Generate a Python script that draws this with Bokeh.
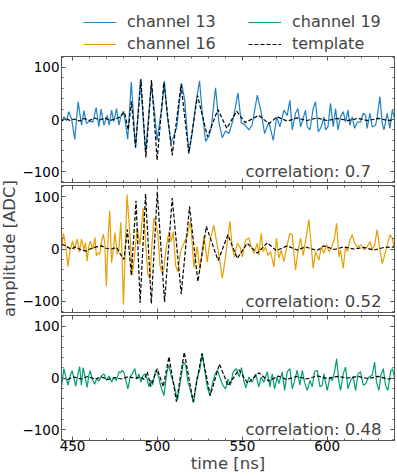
from bokeh.plotting import figure
from bokeh.models import Range1d, LinearAxis, SingleIntervalTicker, FixedTicker, Legend, LegendItem, Label
from bokeh.layouts import row, column
from bokeh.embed import file_html
from bokeh.resources import INLINE

FONT = "DejaVu Sans"
GRAY = "#555555"
X_LIM = (443.5, 639.6)
Y_LIM = (-121, 121)
X_TICK_STEP = 50
Y_TICK_STEP = 100
X_MINOR_STEP = 10
Y_MINOR_STEP = 20

CHANNELS = ["channel 13", "channel 16", "channel 19"]
CORRELATIONS = ["0.7", "0.52", "0.48"]
COLORS = ["#1f80c4", "#E69F00", "#009E73"]

# ---- channel 13 ----
T13 = [443.5, 445.0, 446.5, 447.8, 449.5, 451.3, 453.3, 455.3, 456.7, 458.2, 460.0, 462.0, 463.9, 465.5, 466.8,
       468.5, 470.4, 471.6, 473.0, 474.3, 475.9, 477.3, 478.5, 480.0, 481.0, 482.5, 484.6, 487.1, 490.0, 493.0,
       496.4, 498.0, 499.8, 501.5, 502.6, 504.1, 505.8, 508.0, 509.8, 511.3, 512.7, 514.2, 516.0, 518.5, 520.5,
       522.5, 524.8, 526.4, 528.4, 530.3, 531.7, 534.2, 536.2, 538.2, 540.1, 542.1, 544.6, 547.4, 549.4, 551.3,
       553.9, 555.8, 558.8, 561.0, 563.1, 565.6, 568.2, 570.2, 572.1, 574.5, 576.4, 578.0, 579.4, 581.3, 582.7,
       584.3, 585.8, 587.2, 588.2, 589.8, 591.7, 593.1, 594.7, 596.5, 598.0, 599.0, 600.4, 601.9, 603.5, 604.9,
       606.3, 607.8, 609.4, 610.8, 612.2, 613.3, 614.7, 616.1, 617.7, 619.6, 621.2, 622.6, 623.5, 625.1, 626.5,
       628.5, 629.4, 631.0, 632.4, 633.4, 635.3, 636.9, 638.3, 639.6]
V13 = [-4, 5, -2, 15, 0, -38, 34, -11, 17, -8, -3, -5, 23, -14, 20,
       -11, 8, -11, 18, -4, 21, -11, 6, 16, -3, -38, 72, -55, 77, -64,
       68, 24, -40, 0, 22, 74, 6, -45, -30, -16, 26, 70, 38, -64, -26,
       29, 74, 13, -42, -32, -16, 61, -6, -35, -22, -27, 0, 51, -6, -10,
       -20, -10, 47, 15, -27, -5, -40, 5, -14, 18, 8, 37, -20, 12, 21,
       -14, 2, 18, -14, -20, 21, 34, -24, -14, 5, -20, -14, 31, -14, 21,
       -20, 5, 15, -5, 18, -11, 5, -17, -5, -5, 12, 8, -17, 12, -14,
       -11, 5, 44, -8, -20, 12, -17, 18, 2]
TT13 = [443.5, 446, 448.5, 451, 454, 457, 460, 463, 466, 469, 472, 475, 477.5, 480.6, 482.8,
        484.7, 487.1, 490.3, 493.2, 496.5, 499.8, 503.8, 508.7, 513.9, 518.5, 523.6, 529.5, 535.6, 540.9, 546.6,
        551.7, 559.7, 565.6, 570.5, 576.4, 582.3, 588, 594, 600, 606, 612, 618, 624, 630, 636, 639.6]
VT13 = [-3, 2, -2, 1, -3, 2, -2, 3, -1, 3, -2, 1, 4, 14, -20,
        35, -53, 77, -73, 76, -78, 71, -69, 67, -65, 46, -33, 19, -17, 16,
        -6, 8, -8, 5, -3, 3, -2, 3, -2, 2, -2, 2, -2, 2, -2, 0]

# ---- channel 16 ----
T16 = [443.5, 444.6, 445.8, 447.3, 448.5, 450, 451, 452.8, 454, 455.3, 456.8, 457.6, 458.6, 459.6, 460.6,
       462, 463.2, 464, 465.1, 466, 467.1, 468.1, 469, 469.9, 471, 471.9, 473, 473.8, 475, 476.3,
       477.3, 478.4, 479.1, 480, 482.1, 483.8, 485.2, 486.5, 488.1, 489.7, 491.6, 493, 494.4, 495.6, 496.5,
       497.9, 499.5, 500.3, 501.5, 502.8, 503.8, 504.8, 506.8, 508.1, 509.3, 510.7, 512, 513.6, 515.6, 517.6,
       519.5, 521.5, 523.4, 525, 527.4, 529.3, 530.9, 533.2, 536.2, 538.2, 540.1, 542.7, 544, 545.4, 547,
       548.6, 549.9, 551.9, 553.9, 555.2, 556.8, 558.8, 559.7, 561.1, 562.3, 563.7, 565, 566.6, 568.6, 570.1,
       571.5, 572.9, 574.5, 576.4, 578, 579.4, 580.4, 581.3, 582.7, 584.3, 585.9, 587.2, 589.2, 590.6, 591.7,
       593.1, 595.1, 596.5, 598, 599.6, 601, 602.3, 604.3, 605.5, 606.9, 607.8, 609.4, 610.8, 611.8, 613.3,
       614.7, 616.1, 617.7, 620, 621.6, 623.5, 625.1, 626.5, 627.9, 629.4, 631, 632.4, 633.8, 635.3, 636.9,
       638.3, 639.5]
V16 = [-2, 30, 10, -33, -3, 15, -1, 19, -6, 19, -1, 12, -23, 6, 15,
       -1, 22, -13, -7, -10, 15, 28, 12, -71, 25, 73, -26, -7, 31, -10,
       -1, 51, -10, -106, 104, 27, -50, -12, 40, 8, 78, 14, -50, -56, -5,
       59, 43, 27, -31, -47, -37, -5, 33, 14, 33, -31, -44, -5, 11, 27,
       53, -35, 5, -40, 25, -25, 15, 45, -12, -56, -15, 53, 4, -15, 11,
       4, -15, 17, 21, 4, -8, 11, -12, 30, -5, 4, -12, -5, -34, 21,
       -18, -2, -24, 8, 30, 27, -8, -40, -5, 21, -12, 14, 56, 4, -37,
       -5, -21, 4, -8, 8, -5, 1, 21, 49, -15, -2, -37, 4, -5, 17,
       27, 11, 4, 8, -2, 4, 14, -2, 8, 37, -2, -28, -12, 8, 27,
       21, 1]
TT16 = [443.5, 446, 449, 452, 455, 458, 461, 464, 467, 470, 473, 476, 478.2, 480.3, 482.3,
        484.6, 487.4, 489.8, 493, 496.4, 499.9, 504.2, 508.7, 514, 518.9, 523.8, 528.8, 535.7, 541.5, 547,
        552.9, 558.8, 564.7, 570, 576.4, 582.3, 587.2, 594, 598, 604, 609.8, 615.7, 621.6, 627.5, 633.4, 639.6]
VT16 = [9, 6, 0, 4, -2, -4, 1, 4, 6, 1, 0, 3, -10, -20, 37,
        -50, 92, -103, 105, -104, 109, -101, 97, -86, 81, -62, 43, -22, 27, -18,
        11, -8, 12, -3, 6, -2, 4, -3, 6, -1, 4, 0, 3, -2, 3, 4]

# ---- channel 19 ----
T19 = [443.5, 444.9, 446.3, 447.4, 448.6, 449.8, 450.8, 451.9, 453.2, 454.2, 455.2, 456.2, 457.4, 458.6, 459.6,
       460.4, 461.6, 463, 464.3, 465.6, 467, 468.5, 470, 471.5, 473, 474.5, 475.8, 477.3, 478.3, 479.2,
       480.3, 481.4, 482.6, 484, 485.3, 486.7, 487.8, 489.1, 490.3, 491.5, 492.5, 493.8, 495, 496.1, 497.2,
       498.9, 500.3, 501.8, 503.8, 505.6, 506.7, 508, 509.6, 511.8, 513.6, 515.3, 516.6, 518, 519.5, 521.3,
       523.3, 525, 526.4, 528, 529.3, 530.9, 532.6, 534, 535.3, 536.7, 538.5, 540.1, 541.5, 543, 544.6,
       546.5, 548.2, 549.5, 550.8, 552, 553.9, 555.8, 557.8, 559.7, 561.1, 562.7, 564.7, 566.2, 567.6, 569,
       570.5, 571.5, 573.5, 574.9, 576.4, 578, 579.4, 580.8, 582.3, 583.9, 585.3, 586.6, 588.2, 589.8, 591.2,
       592.5, 594.1, 595.7, 597, 598, 600, 601.6, 602.9, 604.3, 605.5, 606.9, 607.8, 609.4, 610.8, 612.2,
       613.7, 615.3, 616.7, 618.1, 619.6, 621.2, 622.6, 624.5, 626.5, 627.9, 629, 630.4, 631.8, 633, 634.3,
       635.7, 637.3, 638.3, 639.6]
V19 = [-17, 18, -1, -14, 5, 14, 0, -16, 8, 22, -14, 20, 2, -18, 5,
       14, -2, -12, -1, -6, 4, 8, -5, 4, -8, 2, -5, 12, 10, 15,
       11, -4, -21, 3, 9, 18, -2, 8, -8, 5, 8, 0, -17, -4, -13,
       15, 7, -14, -34, 12, 25, 5, -11, -43, -5, 31, 25, -8, -24, -48,
       0, 17, 48, 12, -17, -34, -8, 8, 15, 2, -14, -21, -2, -14, 12,
       18, 2, 20, -4, -19, 2, -8, 8, -17, 2, -8, 12, -17, 8, -21,
       2, -11, 12, -24, 12, 18, -21, -5, 15, -14, 15, -8, -24, -5, -17,
       12, 15, -17, -14, 8, -24, 2, -5, 12, 37, -8, -24, 8, 21, -21,
       -5, 2, -24, 8, 12, -14, -11, 2, 5, 31, -8, -24, 8, 18, -14,
       -24, 12, 18, 2]
TT19 = [443.5, 447, 451, 455, 459, 463, 467, 471, 475, 479, 483, 487, 490, 492.2, 494,
        496.1, 499.9, 503.4, 506.8, 511.2, 515.8, 521, 526.2, 531.1, 536.5, 541.6, 548, 553.2, 559.7, 565.6,
        571, 576, 582, 588, 594, 600, 606, 612, 618, 624, 630, 636, 639.6]
VT19 = [0, -3, 2, -2, 3, -2, 2, -3, 1, -2, 3, -1, 2, -3, 12,
        -16, 18, -17, 41, -46, 50, -46, 47, -34, 27, -15, 16, -10, 10, -6,
        4, -3, 3, -2, 4, -1, 3, 0, 3, -1, 3, -2, 0]

SERIES = [(T13, V13, TT13, VT13), (T16, V16, TT16, VT16), (T19, V19, TT19, VT19)]

# tick positions (for the label-less mirror axes)
X_MAJOR = [x for x in range(400, 700, X_TICK_STEP) if X_LIM[0] <= x <= X_LIM[1]]
X_MINOR = [x for x in range(400, 700, X_MINOR_STEP) if X_LIM[0] <= x <= X_LIM[1] and x % X_TICK_STEP]
Y_MAJOR = [y for y in range(-200, 201, Y_TICK_STEP) if Y_LIM[0] <= y <= Y_LIM[1]]
Y_MINOR = [y for y in range(-200, 201, Y_MINOR_STEP) if Y_LIM[0] <= y <= Y_LIM[1] and y % Y_TICK_STEP]

LABEL_W = 18
FRAME_W = 333
FRAME_HS = [126, 127, 125]
LEFT = 43
RIGHT = 2
LEGEND_H = 54
TOPS = [2, 2, 2]
BOTTOMS = [1, 1, 35]
TICK_FS = "13.5px"
TEXT_FS = "16.5px"
FIG_W = LEFT + FRAME_W + RIGHT


def style_axis(ax, step, standoff):
    ax.ticker = SingleIntervalTicker(interval=step, num_minor_ticks=5)
    ax.major_tick_in = 4
    ax.major_tick_out = 0
    ax.minor_tick_in = 2
    ax.minor_tick_out = 0
    ax.axis_line_color = GRAY
    ax.major_tick_line_color = GRAY
    ax.minor_tick_line_color = GRAY
    ax.major_label_text_font = FONT
    ax.major_label_text_font_size = TICK_FS
    ax.major_label_text_color = "black"
    ax.major_label_standoff = standoff


def tick_only_axes(p, side, major, minor):
    # two label-less axes: long ticks at major positions, short ticks at minor positions
    for ticks, length in ((major, 4), (minor, 2)):
        ax = LinearAxis(ticker=FixedTicker(ticks=[], minor_ticks=ticks),
                        major_tick_in=0, major_tick_out=0,
                        minor_tick_in=length, minor_tick_out=0,
                        minor_tick_line_color=GRAY, axis_line_color=GRAY,
                        major_label_standoff=0)
        p.add_layout(ax, side)


panels = []
for i, (t, v, tt, vt) in enumerate(SERIES):
    last = (i == len(SERIES) - 1)
    p = figure(width=FIG_W, height=TOPS[i] + FRAME_HS[i] + BOTTOMS[i],
               x_range=Range1d(*X_LIM), y_range=Range1d(*Y_LIM),
               output_backend="svg", toolbar_location=None,
               x_axis_location=("below" if last else None),
               min_border_left=LEFT, min_border_right=RIGHT,
               min_border_top=TOPS[i], min_border_bottom=BOTTOMS[i],
               outline_line_color=GRAY, outline_line_width=1)
    p.grid.visible = False
    p.line(t, v, line_color=COLORS[i], line_width=1.2)
    p.line(tt, vt, line_color="black", line_width=1.2, line_dash="4 2")
    style_axis(p.yaxis[0], Y_TICK_STEP, standoff=2)
    p.yaxis[0].major_label_overrides = {-100: "\u2212100"}
    if last:
        xa = p.xaxis[0]
        style_axis(xa, X_TICK_STEP, standoff=0)
        xa.axis_label = "time [ns]"
        xa.axis_label_text_font = FONT
        xa.axis_label_text_font_size = TEXT_FS
        xa.axis_label_text_font_style = "normal"
        xa.axis_label_standoff = 0
    else:
        tick_only_axes(p, "below", X_MAJOR, X_MINOR)
    tick_only_axes(p, "above", X_MAJOR, X_MINOR)
    tick_only_axes(p, "right", Y_MAJOR, Y_MINOR)
    p.add_layout(Label(x=184, y=11, x_units="screen", y_units="screen",
                       text="correlation: " + CORRELATIONS[i], text_font=FONT,
                       text_font_size=TEXT_FS, text_align="left", text_baseline="alphabetic"))
    panels.append(p)

# legend strip above the panels; its renderers hold the real series but lie outside its (0, 1) ranges
leg_fig = figure(width=FIG_W, height=LEGEND_H, x_range=Range1d(0, 1), y_range=Range1d(0, 1),
                 output_backend="svg", toolbar_location=None,
                 min_border_left=0, min_border_right=0, min_border_top=0, min_border_bottom=0,
                 outline_line_color=None, x_axis_location=None, y_axis_location=None)
leg_fig.grid.visible = False
g13 = leg_fig.line(T13, V13, line_color=COLORS[0], line_width=1.2)
g16 = leg_fig.line(T16, V16, line_color=COLORS[1], line_width=1.2)
g19 = leg_fig.line(T19, V19, line_color=COLORS[2], line_width=1.2)
gtp = leg_fig.line(TT13, VT13, line_color="black", line_width=1.2, line_dash="4 2")

leg_kw = dict(border_line_color=None, background_fill_alpha=0, padding=0, margin=0, spacing=3,
              glyph_width=33, glyph_height=16, label_standoff=11, label_height=16,
              label_text_font=FONT, label_text_font_size="16px")
leg1 = Legend(items=[LegendItem(label=CHANNELS[0], renderers=[g13]),
                     LegendItem(label=CHANNELS[1], renderers=[g16])],
              location=(22, 1), **leg_kw)
leg2 = Legend(items=[LegendItem(label=CHANNELS[2], renderers=[g19]),
                     LegendItem(label="template", renderers=[gtp])],
              location=(187, 1), **leg_kw)
leg_fig.add_layout(leg1)
leg_fig.add_layout(leg2)

total_h = LEGEND_H + sum(TOPS) + sum(BOTTOMS) + sum(FRAME_HS)
frames_top = LEGEND_H + TOPS[0]
frames_bottom = LEGEND_H + sum(TOPS) + sum(FRAME_HS) + BOTTOMS[0] + BOTTOMS[1]
lab = figure(width=LABEL_W, height=total_h, x_range=Range1d(0, 1), y_range=Range1d(0, 1),
             output_backend="svg", toolbar_location=None,
             min_border_left=0, min_border_right=0, min_border_top=0, min_border_bottom=0,
             outline_line_color=None, x_axis_location=None, y_axis_location=None)
lab.grid.visible = False
lab.add_layout(Label(x=8.5, y=total_h - (frames_top + frames_bottom) / 2,
                     x_units="screen", y_units="screen",
                     text="amplitude [ADC]", angle=90, angle_units="deg",
                     text_align="center", text_baseline="middle",
                     text_font=FONT, text_font_size=TEXT_FS))

layout = row(lab, column(leg_fig, *panels))
open("out.html", "w").write(file_html(layout, INLINE))
